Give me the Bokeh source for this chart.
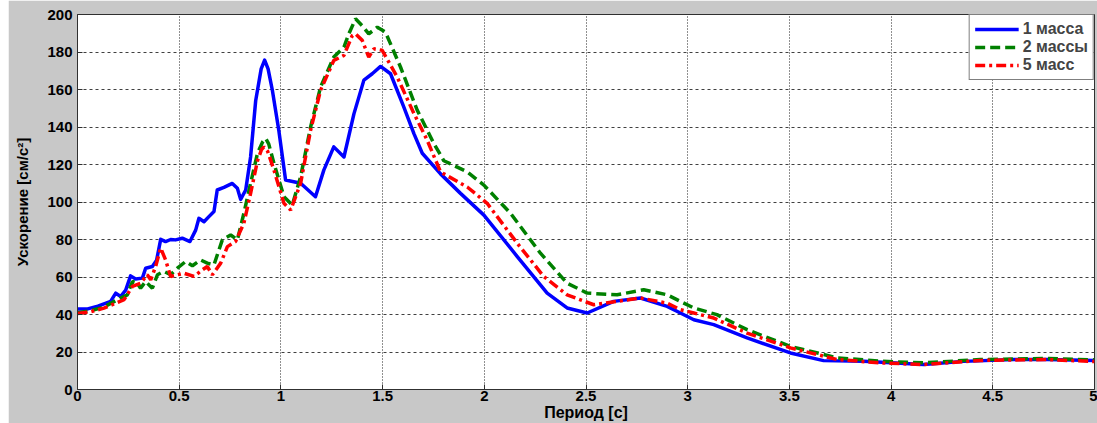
from bokeh.plotting import figure
from bokeh.models import Range1d, FixedTicker, Legend, LegendItem, Spacer
from bokeh.layouts import row
from bokeh.embed import file_html
from bokeh.resources import INLINE

# ---- data ----
x_ticks = [0, 0.5, 1, 1.5, 2, 2.5, 3, 3.5, 4, 4.5, 5]
x_tick_labels = ["0", "0.5", "1", "1.5", "2", "2.5", "3", "3.5", "4", "4.5", "5"]
y_ticks = [0, 20, 40, 60, 80, 100, 120, 140, 160, 180, 200]

series_names = ["1 масса", "2 массы", "5 масс"]

period_1 = [0, 0.05, 0.10, 0.13, 0.163, 0.188, 0.212, 0.237, 0.261, 0.286, 0.319, 0.335,
            0.368, 0.389, 0.409, 0.433, 0.458, 0.482, 0.515, 0.553, 0.581, 0.597, 0.622,
            0.646, 0.671, 0.687, 0.72, 0.761, 0.786, 0.802, 0.827, 0.851, 0.876, 0.903,
            0.92, 0.937, 0.958, 0.99, 1.023, 1.097, 1.17, 1.211, 1.26, 1.31, 1.359, 1.408,
            1.449, 1.49, 1.539, 1.604, 1.654, 1.695, 1.785, 1.883, 1.998, 2.162, 2.309,
            2.407, 2.506, 2.636, 2.768, 2.899, 2.964, 3.03, 3.128, 3.292, 3.505, 3.668,
            3.865, 4.16, 4.356, 4.602, 4.766, 5.0]
accel_1 = [43, 43, 44.5, 45.7, 47, 51.4, 49.6, 53, 60.6, 58.9, 59.4, 64.7,
           65.6, 69, 80.1, 78.9, 80, 79.8, 80.7, 78.9, 85, 91.3, 89.5,
           92.2, 94.9, 106.4, 107.8, 109.9, 107.3, 101.4, 106.4, 124, 154, 171,
           175.7, 171, 159.6, 138, 111.7, 110, 102.8, 117, 129.4, 124, 147, 165,
           168.4, 172.3, 168.4, 150.7, 136.5, 126, 115, 104.6, 93, 70.9, 51.4,
           43.5, 40.8, 47, 48.8, 44.3, 40.8, 37.2, 34.6, 27.5, 19.5, 15.4,
           15.1, 13.3, 15, 16, 16, 15.5]

period_2 = [0, 0.065, 0.13, 0.212, 0.245, 0.27, 0.294, 0.31, 0.335, 0.368, 0.393, 0.425,
            0.458, 0.491, 0.532, 0.565, 0.605, 0.638, 0.671, 0.712, 0.753, 0.786, 0.818,
            0.851, 0.885, 0.91, 0.925, 0.94, 0.966, 1.015, 1.056, 1.097, 1.146, 1.195,
            1.26, 1.31, 1.334, 1.367, 1.40, 1.432, 1.474, 1.514, 1.588, 1.67, 1.752,
            1.801, 1.916, 1.998, 2.129, 2.276, 2.407, 2.506, 2.653, 2.784, 2.899, 2.964,
            3.03, 3.144, 3.292, 3.505, 3.734, 3.947, 4.16, 4.438, 4.766, 5.0]
accel_2 = [41, 42, 44, 48.8, 50.5, 57.6, 56.7, 54, 57.6, 54, 61.2, 63,
           61.2, 64.7, 68.3, 66, 69.1, 67.4, 66.5, 79.8, 82.4, 79.8, 94,
           110, 126, 132, 133.9, 131, 120.6, 102.8, 98.4, 113.5, 140, 161.3,
           177.3, 182.6, 189.7, 197.7, 194, 189.7, 193.2, 190.6, 172, 149, 131.2,
           122, 116.1, 109, 94, 72.7, 56.7, 51.4, 50.5, 53.2, 50.5, 47,
           43.5, 39.9, 31.9, 23, 16.9, 15.1, 14.2, 16, 16.5, 15.8]

period_5 = [0, 0.065, 0.13, 0.229, 0.27, 0.31, 0.343, 0.36, 0.384, 0.409, 0.433, 0.458,
            0.491, 0.523, 0.573, 0.614, 0.638, 0.663, 0.704, 0.737, 0.777, 0.818, 0.851,
            0.885, 0.905, 0.917, 0.935, 0.966, 1.015, 1.048, 1.097, 1.146, 1.195, 1.26,
            1.31, 1.351, 1.367, 1.40, 1.432, 1.457, 1.498, 1.572, 1.654, 1.719, 1.785,
            1.916, 2.014, 2.162, 2.292, 2.407, 2.538, 2.653, 2.768, 2.899, 2.964, 3.03,
            3.128, 3.292, 3.505, 3.734, 3.947, 4.16, 4.438, 4.766, 5.0]
accel_5 = [40.5, 41.5, 43.4, 47.9, 55, 56.7, 61.2, 58.5, 65.6, 75.4, 69.1, 60.3,
           61.2, 62, 60.3, 63.8, 65.6, 61.2, 67.4, 76.2, 78.9, 88.7, 104.6,
           122, 128, 129.4, 127, 117, 99.3, 95.7, 110, 138.3, 159.6, 175.5,
           178.2, 188.8, 189.7, 186.2, 177.3, 181.7, 180.9, 166.6, 147.2, 133, 116,
           108, 99.3, 78, 60.3, 50.5, 45.2, 47, 48.8, 46, 42.6, 40.8,
           38.1, 30.1, 22.2, 16, 14.2, 13.3, 15.5, 16, 14.9]

FONT = "Liberation Sans"

p = figure(width=1089, height=423, output_backend="svg", toolbar_location=None,
           x_range=Range1d(0, 5), y_range=Range1d(0, 200),
           min_border_left=69, min_border_right=3, min_border_top=14, min_border_bottom=33)

p.border_fill_color = "#c8c8c8"
p.background_fill_color = "white"
p.outline_line_color = "#303030"
p.outline_line_width = 1

for ax in (p.xaxis[0], p.yaxis[0]):
    ax.major_label_text_font = FONT
    ax.major_label_text_font_style = "bold"
    ax.major_label_text_font_size = "15px"
    ax.major_label_text_color = "black"
    ax.major_tick_in = 5
    ax.major_tick_out = 0
    ax.minor_tick_in = 0
    ax.minor_tick_out = 0
    ax.axis_line_color = "#303030"
    ax.major_tick_line_color = "#303030"
    ax.axis_label_text_font = FONT
    ax.axis_label_text_font_style = "bold"
    ax.axis_label_text_color = "black"

p.xaxis.ticker = FixedTicker(ticks=x_ticks)
p.xaxis.major_label_overrides = {t: s for t, s in zip(x_ticks, x_tick_labels)}
p.xaxis.major_label_standoff = 1
p.xaxis.axis_label = "Период [с]"
p.xaxis.axis_label_standoff = 0
p.xaxis.axis_label_text_font_size = "16px"

p.yaxis.ticker = FixedTicker(ticks=y_ticks)
p.yaxis.major_label_standoff = 5
p.yaxis.axis_label = "Ускорение [см/с²]"
p.yaxis.axis_label_standoff = 13
p.yaxis.axis_label_text_font_size = "15px"

p.xgrid.ticker = FixedTicker(ticks=x_ticks)
p.ygrid.ticker = FixedTicker(ticks=y_ticks)
p.xgrid.grid_line_color = "#202020"
p.xgrid.grid_line_dash = "1 2"
p.xgrid.grid_line_width = 1
p.ygrid.grid_line_color = "#404040"
p.ygrid.grid_line_dash = "3 3"
p.ygrid.grid_line_width = 1

r1 = p.line(period_1, accel_1, line_color="#0000ff", line_width=3.5, line_join="round")
r2 = p.line(period_2, accel_2, line_color="#008000", line_width=3.5, line_dash="10 5")
r5 = p.line(period_5, accel_5, line_color="#ff0000", line_width=3.5, line_dash="10 4 3 4")

legend = Legend(items=[LegendItem(label=series_names[0], renderers=[r1]),
                       LegendItem(label=series_names[1], renderers=[r2]),
                       LegendItem(label=series_names[2], renderers=[r5])],
                location="top_right")
legend.margin = 0
legend.padding = 5
legend.spacing = 0
legend.label_text_font = FONT
legend.label_text_font_style = "bold"
legend.label_text_font_size = "16px"
legend.label_height = 15
legend.glyph_height = 16
legend.glyph_width = 44
legend.label_standoff = 4
legend.border_line_color = "black"
legend.border_line_width = 1
legend.background_fill_color = "white"
legend.background_fill_alpha = 1.0
p.add_layout(legend)

layout = row(Spacer(width=8, height=423, background="white"), p)

open("out.html", "w").write(file_html(layout, INLINE))
